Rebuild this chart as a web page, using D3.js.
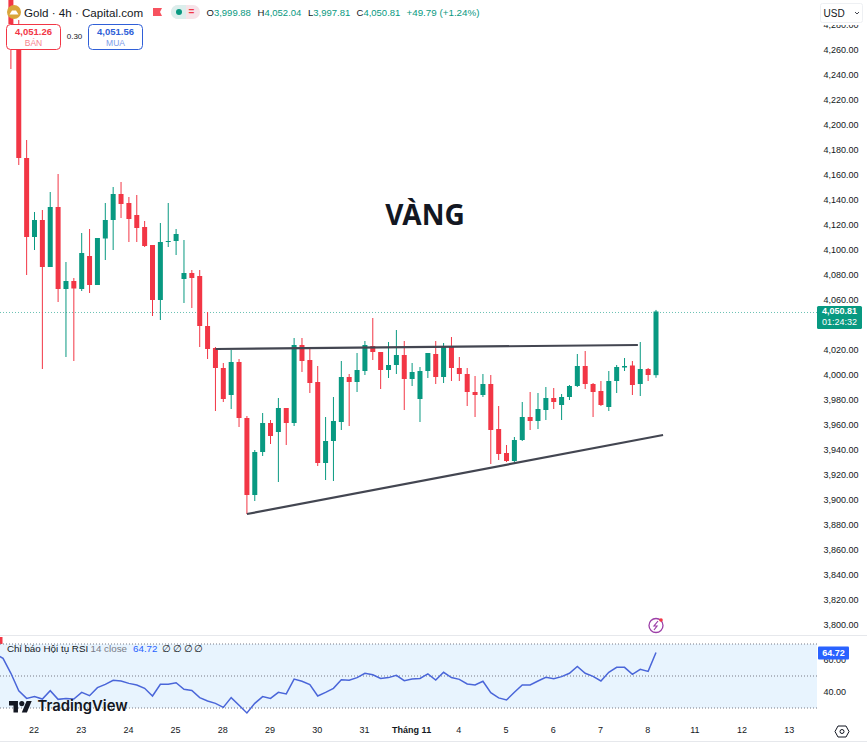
<!DOCTYPE html>
<meta charset="utf-8">
<style>
html, body { margin: 0; padding: 0; background: #fff; }
svg { display: block; }
text { font-family: "Liberation Sans", Arial, sans-serif; }
.price text, .rsiaxis text { font-size: 9px; fill: #131722; }
.time text { font-size: 9px; fill: #131722; }
</style>
<body>
<script src="https://cdnjs.cloudflare.com/ajax/libs/d3/7.8.5/d3.min.js"></script>
<script>

var width = 867,
    height = 743,
    plotRight = 817;

// first candle is 3 bars left of the "22" label
var firstBar = -3;

var opens = [4304,4280.8,4173.6,4110.4,4124,4086.4,4134.4,4068.8,4075.2,4068.8,4095.2,4072,4109.2,4124,4144.8,4137.6,4128,4118.4,4104,4060,4106.4,4107.2,4076.8,4081.6,4079.2,4039.2,4021.6,4005.6,3984,4010.4,3965.6,3904,3938.4,3961.6,3954.4,3973.6,3961.6,4024,4012,3994.4,3929.6,3947.2,3962.4,3998.4,3994.4,4003.2,4023.2,4018.4,4004,4008,4016,3996.8,3980.8,4003.2,4016.8,3998.4,4023.2,4005.6,4000.8,3986.4,3984,3992.8,3956.8,3937.6,3931.2,3948,3966.4,3963.2,3972,3981.6,3976,3982.4,3991.2,4007.2,3992.8,3987.2,3974.4,3995.2,4006,4007.6,3992.8,4004.8,3999.88];
var highs = [4308,4284,4188,4130.4,4132,4146.4,4160.8,4090.4,4077.6,4113.6,4116.8,4109.6,4137.6,4150.4,4154.4,4142.4,4144,4123.2,4104,4121.6,4137.6,4116.8,4108,4084,4084,4050.4,4022.4,4009.6,4020,4012.8,3967.2,3940,3969.6,3964,3981.6,3973.6,4029.6,4029.6,4020.8,4007.2,3966.4,3982.4,4011.2,4000.8,4017.6,4027.2,4045.6,4018.4,4026.4,4036,4027.2,4009.6,4006.4,4017.6,4027.2,4025.6,4030.4,4014.4,4005.6,3999.2,4000.8,4000,3975.2,3944,3950.4,3978.4,3986.4,3985.6,3990.4,3989.6,3984.8,3992,4016.8,4019.2,3993.6,3995.2,4003.2,4008,4013.6,4011.2,4026.4,4005.6,4052.04];
var lows = [4244.8,4168,4080,4100,4004.8,4086.4,4058.4,4014.4,4011.2,4067.2,4065.6,4072,4092,4100,4125.6,4106.4,4106.4,4102.4,4047.2,4044,4102.4,4096,4057.6,4053.6,4022.4,4012.8,3971.2,3978.4,3972.8,3958.4,3888.8,3899.2,3935.2,3944.8,3914.4,3944,3959.2,4002.4,3985.6,3927.2,3916,3915.2,3956,3959.2,3986.4,4000,4012,3988.8,3997.6,4000.8,3972,3991.2,3962.4,3997.6,3992.8,3993.6,3995.2,3995.2,3975.2,3966.4,3982.4,3928.8,3932,3930.4,3930.4,3947.2,3956,3956.8,3964,3972.8,3964,3980,3990.4,3988.8,3966.4,3975.2,3971.2,3985.6,4003.2,3984,3983.2,3995.2,3997.81];
var closes = [4280.8,4173.6,4110.4,4124,4086.4,4134.4,4068.8,4075.2,4069.2,4097.6,4072,4109.6,4124,4144.8,4136.8,4124.8,4117.6,4103.2,4060,4106.4,4107.2,4112.8,4081.6,4077.6,4039.2,4020.8,4005.6,3980.8,4010.4,3965.6,3904,3938.4,3961.6,3951.2,3973.6,3961.6,4024,4011.2,3993.6,3929.6,3947.2,3963.2,3998.4,3994.4,4004,4024,4018.4,4004,4008,4016,3996.8,4002.4,4003.2,4017.6,3998.4,4023.2,4005.6,4000.8,3986.4,3984,3992.8,3956,3936.8,3931.2,3948,3966.4,3963.2,3972.8,3981.6,3978.4,3982.4,3991.2,4007.2,3992.8,3986.4,3976,3995.2,4006.4,4007.2,3992,4004.8,4000,4050.81];

// RSI starts two bars earlier than the candles, off the left edge
var rsiFirstBar = -5;
var rsiValues = [64,61,51.7,40.8,36,37.1,35.6,40.8,35.4,36,35.6,39.8,37.7,42.7,44.8,47.3,46.9,45.4,44.4,42.3,37.5,44.8,44.8,45.8,41.7,41,36.5,34.4,32.9,30.4,36.5,31.7,26.9,32.9,37.1,36,39.8,38.8,48.1,46.7,44.6,37.5,39.8,42.3,47.7,47.3,49,51.7,50.8,48.5,49,50.4,47.1,48.1,48.5,51.3,47.5,52.3,49,47.9,45,44.4,46.7,39.6,36.3,35,39.8,44.4,44.4,46.9,49.2,48.3,49.6,51.7,56,51.7,49.8,46.9,52.3,55.4,55.4,51,54.2,52.9,64.72];

var priceTicks = d3.range(3800, 4300, 20).filter(function(d) { return d != 4040; });
var rsiTicks = [40, 60];
var rsiBands = [30, 50, 70];
var dayBars = [0,6,12,18,24,30,36,42,48,54,60,66,72,78,84,90,96];
var dayLabels = ["22","23","24","25","28","29","30","31","Tháng 11","4","5","6","7","8","11","12","13"];

// trend lines drawn on the chart, [bar, price]
var resistance = [[23,4020.8],[76.7,4024]];
var support = [[27,3888.8],[79.9,3952]];

var headerValues = [["O","3,999.88"],["H","4,052.04"],["L","3,997.81"],["C","4,050.81"]];
var headerX = [206.5,257.5,308,356.5];

var lastPrice = closes[closes.length - 1];
var lastRsi = rsiValues[rsiValues.length - 1];
var upColor = "#089981", downColor = "#f23645";

var x = d3.scaleLinear().domain([0, 79]).range([34.5, 656]);
var y = d3.scaleLinear().domain([3800, 4260]).range([625, 50]);
var yr = d3.scaleLinear().domain([30, 70]).range([708, 644]);

var svg = d3.select("body").append("svg")
    .attr("width", width)
    .attr("height", height);

svg.append("rect").attr("width", width).attr("height", height).attr("fill", "#fff");

var defs = svg.append("defs");
defs.append("clipPath").attr("id", "main").append("rect")
    .attr("width", plotRight).attr("height", 635);
defs.append("clipPath").attr("id", "pane").append("rect")
    .attr("y", 636).attr("width", plotRight).attr("height", 100);

// last price line
svg.append("line")
    .attr("x1", 0).attr("x2", plotRight)
    .attr("y1", y(lastPrice) + 1).attr("y2", y(lastPrice) + 1)
    .attr("stroke", upColor).attr("stroke-opacity", 0.6).attr("stroke-width", 1).attr("stroke-dasharray", "1 2");

// candles
var candles = d3.range(opens.length).map(function(i) {
  return { bar: firstBar + i, o: opens[i], h: highs[i], l: lows[i], c: closes[i] };
});

var candle = svg.append("g").attr("clip-path", "url(#main)")
  .selectAll("g").data(candles).enter().append("g")
    .attr("fill", function(d) { return d.c >= d.o ? upColor : downColor; })
    .attr("stroke", function(d) { return d.c >= d.o ? upColor : downColor; });

candle.append("line")
    .attr("x1", function(d) { return x(d.bar); })
    .attr("x2", function(d) { return x(d.bar); })
    .attr("y1", function(d) { return y(d.h); })
    .attr("y2", function(d) { return y(d.l); })
    .attr("stroke-width", 1);

candle.append("rect")
    .attr("x", function(d) { return x(d.bar) - 2.5; })
    .attr("width", 5)
    .attr("y", function(d) { return y(Math.max(d.o, d.c)); })
    .attr("height", function(d) { return Math.max(1, Math.abs(y(d.o) - y(d.c))); })
    .attr("stroke", "none");

// trend lines
var trend = d3.line()
    .x(function(d) { return x(d[0]); })
    .y(function(d) { return y(d[1]); });

svg.selectAll(".trend").data([resistance, support]).enter().append("path")
    .attr("class", "trend")
    .attr("d", trend)
    .attr("fill", "none")
    .attr("stroke", "#434651")
    .attr("stroke-width", 2.2);

svg.append("text")
    .attr("x", 425).attr("y", 225)
    .attr("text-anchor", "middle")
    .style("font-family", "'Noto Sans'")
    .style("font-size", "28px")
    .style("font-weight", "bold")
    .attr("fill", "#131722")
    .text("VÀNG");

// price axis
var priceAxis = svg.append("g")
    .attr("class", "price")
    .attr("transform", "translate(" + (plotRight + 6.5) + ",0)")
    .call(d3.axisRight(y).tickValues(priceTicks).tickSize(0).tickPadding(0).tickFormat(d3.format(",.2f")));
priceAxis.select(".domain").remove();

// price tags
svg.append("rect")
    .attr("x", plotRight).attr("y", y(lastPrice) - 5.5)
    .attr("width", 45).attr("height", 23).attr("rx", 1.5)
    .attr("fill", upColor);
svg.selectAll(".tag").data([d3.format(",.2f")(lastPrice), "01:24:32"]).enter().append("text")
    .attr("class", "tag")
    .attr("x", plotRight + 22.5)
    .attr("y", function(d, i) { return y(lastPrice) + 3 + i * 11; })
    .attr("text-anchor", "middle")
    .attr("fill", "#fff")
    .style("font-size", "9px")
    .style("font-weight", function(d, i) { return i ? "normal" : "bold"; })
    .text(function(d) { return d; });

// USD button, it hides the top half of the 4,280 label
svg.append("rect").attr("x", 818).attr("y", 0).attr("width", 49).attr("height", 25).attr("fill", "#fff");
svg.append("rect").attr("x", 820.5).attr("y", 3.5).attr("width", 42).attr("height", 19).attr("rx", 2)
    .attr("fill", "#fff").attr("stroke", "#eef0f3");
svg.append("text").attr("x", 823.5).attr("y", 16.5).attr("fill", "#131722").style("font-size", "10px").text("USD");
svg.append("path").attr("d", "M855 12l2 2 2-2").attr("fill", "none").attr("stroke", "#131722").attr("stroke-width", 0.8);

// header
var gold = svg.append("g");
gold.append("circle").attr("cx", 14).attr("cy", 12).attr("r", 7).attr("fill", "#d9a53a");
gold.append("path").attr("d", "M9.5 14.5l2.5-4h4l2.5 4z").attr("fill", "#fff");
svg.append("text").attr("x", 24).attr("y", 16.5).attr("fill", "#131722").style("font-size", "11.6px")
    .text("Gold · 4h · Capital.com");
svg.append("path").attr("d", "M153 8h9l-2 4 2 4h-9z").attr("fill", "#f7525f");
svg.append("rect").attr("x", 171).attr("y", 5).attr("width", 29).attr("height", 14).attr("rx", 7).attr("fill", "#f6e3e8");
svg.append("path").attr("d", "M178 5a7 7 0 0 0 0 14h8v-14z").attr("fill", "#dbeeec");
svg.append("circle").attr("cx", 179).attr("cy", 12).attr("r", 3).attr("fill", upColor);
svg.append("text").attr("x", 191.5).attr("y", 15).attr("text-anchor", "middle").attr("fill", downColor)
    .style("font-size", "10px").style("font-weight", "bold").text("=");

var ohlc = svg.selectAll(".ohlc").data(headerValues).enter().append("text")
    .attr("class", "ohlc")
    .attr("x", function(d, i) { return headerX[i]; })
    .attr("y", 16)
    .style("font-size", "9.5px");
ohlc.append("tspan").attr("fill", "#131722").text(function(d) { return d[0]; });
ohlc.append("tspan").attr("fill", upColor).text(function(d) { return d[1]; });
svg.append("text").attr("x", 406.5).attr("y", 16).attr("fill", upColor).style("font-size", "9.8px")
    .text("+49.79 (+1.24%)");

// bid, ask
var quoteBoxes = [
  { x: 6.5, price: "4,051.26", name: "BÁN", color: "#f23645", pale: "#f7848e" },
  { x: 88.5, price: "4,051.56", name: "MUA", color: "#2f5fd8", pale: "#7d9be8" }
];
var quote = svg.selectAll(".quote").data(quoteBoxes).enter().append("g").attr("class", "quote");
quote.append("rect")
    .attr("x", function(d) { return d.x; }).attr("y", 24.5)
    .attr("width", 54).attr("height", 25).attr("rx", 4)
    .attr("fill", "#fff")
    .attr("stroke", function(d) { return d.color; });
quote.append("text")
    .attr("x", function(d) { return d.x + 27; }).attr("y", 35)
    .attr("text-anchor", "middle")
    .attr("fill", function(d) { return d.color; })
    .style("font-size", "9.5px").style("font-weight", "bold")
    .text(function(d) { return d.price; });
quote.append("text")
    .attr("x", function(d) { return d.x + 27; }).attr("y", 45.5)
    .attr("text-anchor", "middle")
    .attr("fill", function(d) { return d.pale; })
    .style("font-size", "8.5px")
    .text(function(d) { return d.name; });
svg.append("text").attr("x", 74.5).attr("y", 39).attr("text-anchor", "middle").attr("fill", "#131722")
    .style("font-size", "8px").text("0.30");

// bolt icon
svg.append("circle").attr("cx", 656).attr("cy", 625.5).attr("r", 7)
    .attr("fill", "#fff").attr("stroke", "#9c3fa8").attr("stroke-width", 1.3);
svg.append("path").attr("d", "M658 621l-4 5h3l-3 4").attr("fill", "none").attr("stroke", "#9c3fa8").attr("stroke-width", 1.2);
svg.append("circle").attr("cx", 661).attr("cy", 620).attr("r", 1.8).attr("fill", "#f23645");

// rsi pane
svg.append("line").attr("x1", 0).attr("x2", width).attr("y1", 635.5).attr("y2", 635.5).attr("stroke", "#e6e8ec");
svg.append("line").attr("x1", 0).attr("x2", width).attr("y1", 741.5).attr("y2", 741.5).attr("stroke", "#e6e8ec");
svg.append("rect").attr("x", 0).attr("y", 637).attr("width", 2.5).attr("height", 9).attr("fill", downColor);

svg.append("rect")
    .attr("x", 0).attr("width", plotRight)
    .attr("y", yr(70)).attr("height", yr(30) - yr(70))
    .attr("fill", "#e8f4fe");

svg.selectAll(".band").data(rsiBands).enter().append("line")
    .attr("class", "band")
    .attr("x1", 0).attr("x2", plotRight)
    .attr("y1", yr).attr("y2", yr)
    .attr("stroke", "#787b86").attr("stroke-width", 1).attr("stroke-dasharray", "1 2");

var rsiLine = d3.line()
    .x(function(d, i) { return x(rsiFirstBar + i); })
    .y(function(d) { return yr(d); });

svg.append("path").datum(rsiValues)
    .attr("clip-path", "url(#pane)")
    .attr("d", rsiLine)
    .attr("fill", "none")
    .attr("stroke", "#4a66d9")
    .attr("stroke-width", 1.5);

var rsiAxis = svg.append("g")
    .attr("class", "rsiaxis")
    .attr("transform", "translate(" + (plotRight + 6.5) + ",0)")
    .call(d3.axisRight(yr).tickValues(rsiTicks).tickSize(0).tickPadding(0).tickFormat(d3.format(".2f")));
rsiAxis.select(".domain").remove();

svg.append("rect")
    .attr("x", plotRight + 1).attr("y", yr(lastRsi) - 6)
    .attr("width", 31).attr("height", 13).attr("rx", 1)
    .attr("fill", "#2962ff");
svg.append("text")
    .attr("x", plotRight + 16.5).attr("y", yr(lastRsi) + 3.5)
    .attr("text-anchor", "middle").attr("fill", "#fff")
    .style("font-size", "9px").style("font-weight", "bold")
    .text(d3.format(".2f")(lastRsi));

var legend = svg.append("text").attr("x", 7).attr("y", 651.5).style("font-size", "9.8px");
legend.append("tspan").attr("fill", "#131722").text("Chỉ báo Hội tụ RSI");
legend.append("tspan").attr("fill", "#787b86").attr("x", 90.5).text("14 close");
legend.append("tspan").attr("fill", "#2962ff").attr("x", 133).text("64.72");
svg.selectAll(".na").data(["∅","∅","∅","∅"]).enter().append("text")
    .attr("class", "na")
    .attr("x", function(d, i) { return 162 + i * 10.8; })
    .attr("y", 651.5)
    .attr("fill", "#131722")
    .style("font-size", "10px")
    .text(function(d) { return d; });

// TradingView mark
var logo = svg.append("g").attr("transform", "translate(9,698.5) scale(0.64)").attr("fill", "#131722");
logo.append("path").attr("d", "M14 22H7V11H0V4h14v18zM28 22h-8l7.5-18h8L28 22z");
logo.append("circle").attr("cx", 20).attr("cy", 8).attr("r", 4);
svg.append("text").attr("x", 37.5).attr("y", 711)
    .attr("fill", "#131722")
    .style("font-family", "Inter")
    .style("font-size", "14.8px").style("font-weight", 600)
    .text("TradingView");

// time axis, labels sit a pixel left of the bars
var timeAxis = svg.append("g")
    .attr("class", "time")
    .attr("transform", "translate(-1,724)")
    .call(d3.axisBottom(x).tickValues(dayBars).tickSize(0).tickPadding(3)
      .tickFormat(function(d, i) { return dayLabels[i]; }));
timeAxis.select(".domain").remove();
timeAxis.selectAll("text").filter(function(d, i) { return dayLabels[i] == "Tháng 11"; })
    .style("font-weight", "bold");

// settings icon
svg.append("path").attr("d", "M838 726h8l3 5.5-3 5.5h-8l-3-5.5z").attr("fill", "none").attr("stroke", "#131722");
svg.append("circle").attr("cx", 842).attr("cy", 731.5).attr("r", 2).attr("fill", "none").attr("stroke", "#131722");

</script>
